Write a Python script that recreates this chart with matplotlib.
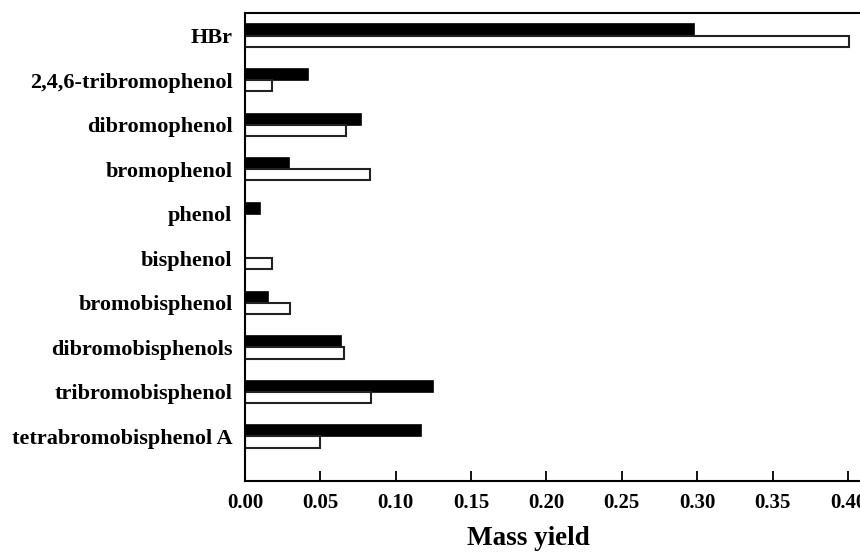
import matplotlib
matplotlib.use("Agg")
import matplotlib.pyplot as plt
import numpy as np

categories = ["HBr", "2,4,6-tribromophenol", "dibromophenol", "bromophenol",
              "phenol", "bisphenol", "bromobisphenol", "dibromobisphenols",
              "tribromobisphenol", "tetrabromobisphenol A"]
black_vals = [0.298, 0.042, 0.077, 0.029, 0.010, 0.0, 0.0155, 0.0635, 0.125, 0.117]
white_vals = [0.401, 0.0177, 0.067, 0.083, 0.0, 0.0177, 0.030, 0.066, 0.0835, 0.0496]
xticks = [0.00, 0.05, 0.10, 0.15, 0.20, 0.25, 0.30, 0.35, 0.40]

plt.rcParams['font.family'] = ['Liberation Serif', 'DejaVu Serif']

fig = plt.figure(figsize=(8.6, 5.53), dpi=100)
ax = fig.add_axes([245/860, 72/553, 615/860, (481-13.3)/553])

n = len(categories)
y = np.arange(n)[::-1]  # HBr at top
h = 0.25
ax.barh(y + h/2, black_vals, height=h, color='black', edgecolor='black', linewidth=1.2)
ax.barh(y - h/2, white_vals, height=h, color='white', edgecolor='#222222', linewidth=1.5)

ax.set_xlim(0, 0.408)
ax.set_ylim(-1, n - 0.5)
ax.set_yticks(y)
ax.set_yticklabels(categories, fontsize=16, fontweight='bold')
ax.tick_params(axis='y', length=0, pad=9)
ax.set_xticks(xticks)
ax.set_xticklabels([f"{t:.2f}" for t in xticks], fontsize=15, fontweight='bold')
ax.tick_params(axis='x', direction='in', length=7, width=1.3, pad=9)

for s in ['left', 'bottom', 'top']:
    ax.spines[s].set_linewidth(1.5)
ax.spines['right'].set_visible(False)

ax.set_xlabel("Mass yield", fontsize=19.5, fontweight='bold')
ax.xaxis.set_label_coords(0.46, -0.097)

fig.savefig("out.png", dpi=100)
